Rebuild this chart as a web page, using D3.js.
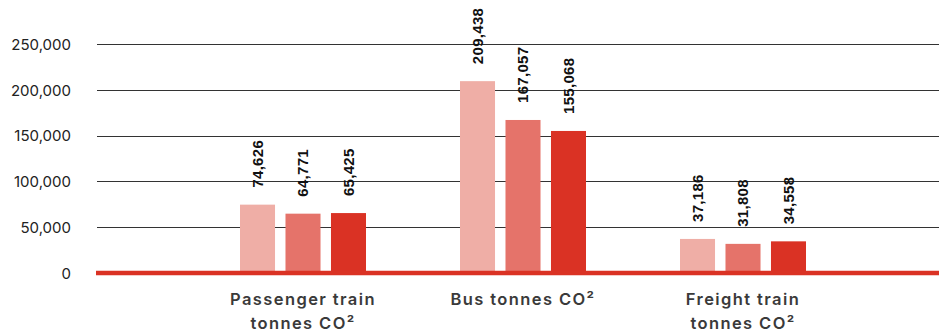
<!DOCTYPE html>
<html><head><meta charset="utf-8">
<script src="https://cdn.jsdelivr.net/npm/d3@7"></script>
<style>html,body{margin:0;padding:0;background:#fff;}svg{display:block;}</style>
</head><body>
<svg id="chart" width="939" height="333"></svg>
<script>
const categories = [["Passenger train", "tonnes CO²"], ["Bus tonnes CO²"], ["Freight train", "tonnes CO²"]];
const series1 = [74626, 209438, 37186];
const series2 = [64771, 167057, 31808];
const series3 = [65425, 155068, 34558];
const yTicks = [0, 50000, 100000, 150000, 200000, 250000];
const colors = ["#efaea6", "#e5736a", "#da3224"];

const svg = d3.select("#chart");
const left = 97, right = 939;
const y = d3.scaleLinear().domain([0, 250000]).range([273, 44]);
const x0 = d3.scaleBand().domain(d3.range(categories.length)).range([193, 853]).padding(0);
const gw = 126;
const x1 = d3.scaleBand().domain([0,1,2]).range([0, gw]).paddingInner(0.23).paddingOuter(0);

const fmt = d3.format(",");

// gridlines
const grid = svg.append("g");
yTicks.filter(t => t > 0).forEach(t => {
  grid.append("line").attr("x1", left).attr("x2", right)
    .attr("y1", Math.round(y(t)) + 0.5).attr("y2", Math.round(y(t)) + 0.5)
    .attr("stroke", "#333").attr("stroke-width", 1);
});
// y axis labels
const yAxis = d3.axisLeft(y).tickValues(yTicks).tickFormat(fmt).tickSize(0).tickPadding(0);
const ga = svg.append("g").attr("transform", `translate(71,0)`).call(yAxis);
ga.select(".domain").remove();
ga.selectAll("text").attr("font-family", "Inter, 'Helvetica Neue', Arial, sans-serif")
  .attr("font-size", 15).attr("fill", "#222").attr("dy", "0.35em");

const seriesAll = [series1, series2, series3];
const groups = svg.append("g");
categories.forEach((c, i) => {
  const gx = x0(i) + (x0.bandwidth() - gw) / 2;
  seriesAll.forEach((s, j) => {
    const v = s[i];
    const bx = gx + x1(j);
    groups.append("rect").attr("x", bx).attr("y", y(v)).attr("width", x1.bandwidth())
      .attr("height", y(0) - y(v)).attr("fill", colors[j]);
    groups.append("text")
      .attr("transform", `translate(${bx + x1.bandwidth()/2},${y(v) - 17}) rotate(-90)`)
      .attr("dy", "0.35em").attr("text-anchor", "start")
      .attr("font-family", "'Liberation Sans', Arial, sans-serif").attr("font-weight", "bold")
      .attr("font-size", 15).attr("letter-spacing", "0.3px").attr("fill", "#111")
      .text(fmt(v));
  });
  const t = svg.append("text").attr("text-anchor", "middle")
    .attr("font-family", "Inter, 'Helvetica Neue', Arial, sans-serif").attr("font-weight", 600)
    .attr("font-size", 16.5).attr("letter-spacing", "1.4px").attr("fill", "#3a3a3a");
  c.forEach((line, k) => {
    t.append("tspan").attr("x", gx + gw / 2).attr("y", 305 + k * 24).text(line);
  });
});

// baseline
svg.append("line").attr("x1", 96).attr("x2", 939).attr("y1", 273).attr("y2", 273)
  .attr("stroke", "#da3224").attr("stroke-width", 4.5);
</script>
</body></html>
